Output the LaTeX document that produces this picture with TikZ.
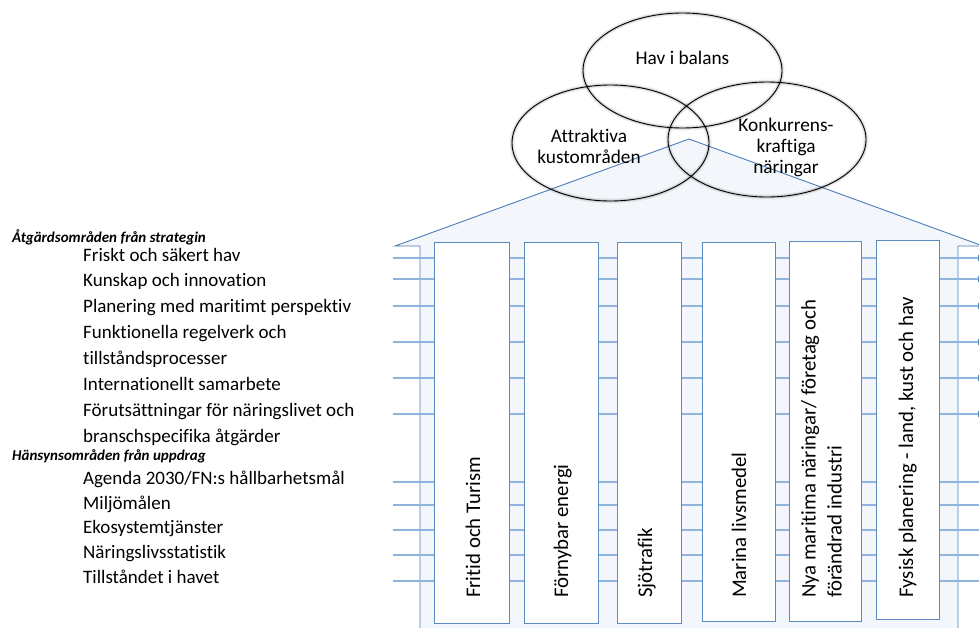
\documentclass[tikz,border=0pt]{standalone}
\usepackage{fontspec}
\setmainfont{Carlito}[Ligatures=NoCommon]
\usetikzlibrary{arrows.meta,shapes.geometric}

\definecolor{roofblue}{HTML}{4A7DBA}
\definecolor{housefill}{HTML}{F3F6FB}
\definecolor{railblue}{HTML}{8FB4DE}
\definecolor{pillarblue}{HTML}{5C8AC2}
\definecolor{tipblue}{HTML}{4F86C6}

\tikzset{
  listitem/.style={anchor=base west, inner sep=0pt, font=\fontsize{19}{22}\selectfont},
  listhead/.style={anchor=base west, inner sep=0pt, font=\fontsize{15}{17}\selectfont\bfseries\itshape},
  pillar/.style={draw=pillarblue, fill=white, line width=1.1pt, inner sep=0pt, anchor=north west},
  pillartext/.style={rotate=90, inner sep=0pt, align=left, font=\fontsize{20.8}{26}\selectfont},
  rail/.style={draw=railblue, line width=1.4pt},
  railtip/.style={rail, -{Triangle[length=7pt, width=6pt, color=tipblue]}},
  goal/.style={ellipse, draw=black, line width=0.9pt, inner sep=0pt,
    preaction={draw=black, line width=5pt, draw opacity=0.06},
    preaction={draw=black, line width=2.8pt, draw opacity=0.10}},
  goaltext/.style={inner sep=0pt, align=center, font=\fontsize{19.3}{21}\selectfont}
}

\begin{document}
\begin{tikzpicture}[x=1pt, y=-1pt]
  \path[use as bounding box] (0,0) rectangle (979,627);
  \clip (0,0) rectangle (979,627);
  \fill[white] (0,0) rectangle (979,627);

  % house outline with roof and eaves
  \filldraw[fill=housefill, draw=roofblue, line width=0.9pt]
    (420,640) -- (420,246) -- (395,246) -- (689,139) -- (983,246)
    -- (958,246) -- (958,640) -- cycle;

  % rails for the strategy areas (with tips) and the consideration areas
  \foreach \ry in {258,279,306,342,378,414}
    \draw[railtip] (393,\ry) -- (985,\ry);
  \foreach \ry in {482,505,530,555,581}
    \draw[rail] (393,\ry) -- (985,\ry);

  % pillars
  \node[pillar, minimum width=75, minimum height=381] (p1) at (434,242) {};
  \node[pillar, minimum width=74, minimum height=381] (p2) at (524,242) {};
  \node[pillar, minimum width=64, minimum height=381] (p3) at (617,242) {};
  \node[pillar, minimum width=73, minimum height=379] (p4) at (702,242) {};
  \node[pillar, minimum width=72, minimum height=380] (p5) at (789,241) {};
  \node[pillar, minimum width=63, minimum height=379] (p6) at (876,240) {};

  \node[pillartext, anchor=base west] (t1) at (480,598) {Fritid och Turism};
  \node[pillartext, anchor=base west] (t2) at (568,598) {Förnybar energi};
  \node[pillartext, anchor=base west] (t3) at (652,598) {Sjötrafik};
  \node[pillartext, anchor=base west] (t4) at (746,598) {Marina livsmedel};
  \node[pillartext, anchor=south west] (t5) at (842,598) {Nya maritima näringar/ företag och\\förändrad industri};
  \node[pillartext, anchor=base west] (t6) at (913,598) {Fysisk planering - land, kust och hav};

  % the three overlapping goals
  \node[goal, minimum width=199, minimum height=115] (hav) at (682.5,70.5) {};
  \node[goal, minimum width=197, minimum height=116] (kust) at (610.5,143) {};
  \node[goal, minimum width=198, minimum height=115] (nar) at (767,139.5) {};
  \node[goaltext] (havt) at (682.5,58) {Hav i balans};
  \node[goaltext] (kustt) at (589,146.5) {Attraktiva\\kustområden};
  \node[goaltext] (nart) at (786,147) {Konkurrens-\\kraftiga\\näringar};

  % list of areas
  \node[listhead] (h1) at (12,242) {Åtgärdsområden från strategin};
  \node[listitem] (a1) at (83,261.5) {Friskt och säkert hav};
  \node[listitem] (a2) at (83,286) {Kunskap och innovation};
  \node[listitem] (a3) at (83,312.5) {Planering med maritimt perspektiv};
  \node[listitem] (a4) at (83,338.5) {Funktionella regelverk och};
  \node[listitem] (a5) at (83,364.5) {tillståndsprocesser};
  \node[listitem] (a6) at (83,390.5) {Internationellt samarbete};
  \node[listitem] (a7) at (83,416) {Förutsättningar för näringslivet och};
  \node[listitem] (a8) at (83,442.5) {branschspecifika åtgärder};
  \node[listhead] (h2) at (12,460) {Hänsynsområden från uppdrag};
  \node[listitem] (b1) at (83,484.5) {Agenda 2030/FN:s hållbarhetsmål};
  \node[listitem] (b2) at (83,509.5) {Miljömålen};
  \node[listitem] (b3) at (83,533.5) {Ekosystemtjänster};
  \node[listitem] (b4) at (83,558.5) {Näringslivsstatistik};
  \node[listitem] (b5) at (83,583.5) {Tillståndet i havet};
\end{tikzpicture}
\end{document}
